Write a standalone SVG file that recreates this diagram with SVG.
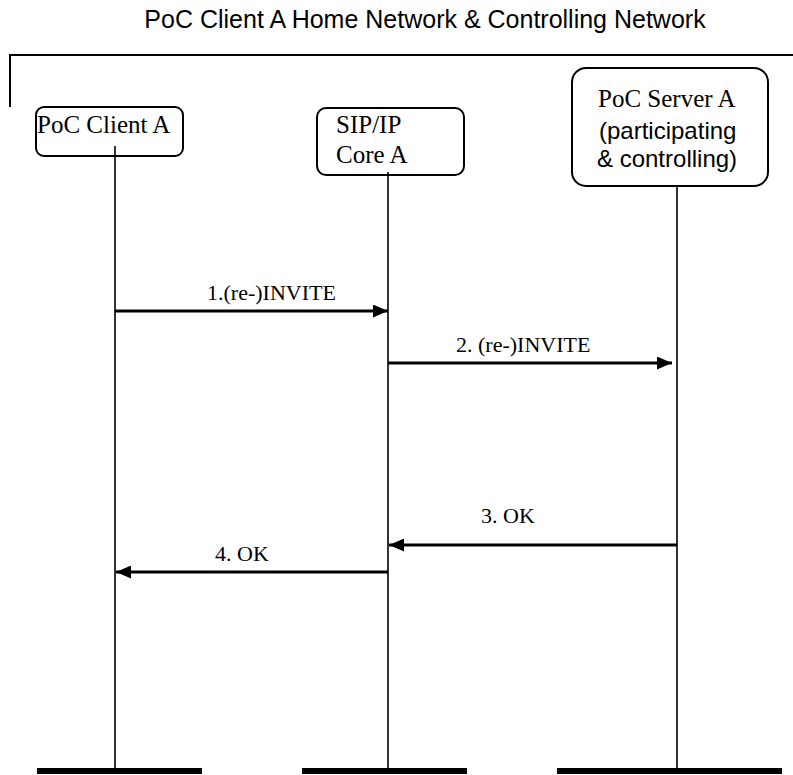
<svg xmlns="http://www.w3.org/2000/svg" width="793" height="775" viewBox="0 0 793 775">
<style>
.box{fill:#fff;stroke:#000;stroke-width:2}
.serif{font-family:"Liberation Serif","Times New Roman",serif;font-size:25px;fill:#000}
.sans{font-family:"Liberation Sans",Arial,sans-serif;fill:#000}
.life{stroke:#000;stroke-width:1.6;fill:none}
.msg{stroke:#000;stroke-width:3;fill:none;marker-end:url(#ah)}
.lbl{font-family:"Liberation Serif","Times New Roman",serif;font-size:22px;fill:#000}
.bar{fill:#000}
</style>
<defs>
<marker id="ah" viewBox="0 0 15 13" refX="15" refY="6.5" markerWidth="15" markerHeight="13" markerUnits="userSpaceOnUse" orient="auto">
<path d="M0,0 L15,6.5 L0,13 z" fill="#000"/>
</marker>
</defs>
<rect width="793" height="775" fill="#fff"/>
<text class="sans" x="425" y="28" font-size="25" text-anchor="middle">PoC Client A Home Network &amp; Controlling Network</text>
<polyline points="10,107 10,55 793,55" fill="none" stroke="#000" stroke-width="2"/>
<g id="lifelines">
<line class="life" x1="115" y1="146" x2="115" y2="770"/>
<line class="life" x1="388" y1="172" x2="388" y2="770"/>
<line class="life" x1="677" y1="187" x2="677" y2="770"/>
</g>
<g id="clientA">
<rect class="box" x="36" y="107" width="147" height="49" rx="8"/>
<text class="serif" x="37" y="133">PoC Client A</text>
<line class="life" x1="115" y1="146" x2="115" y2="156"/>
<rect class="bar" x="37" y="768" width="165" height="6"/>
</g>
<g id="sipCoreA">
<rect class="box" x="317" y="108" width="147" height="67" rx="9"/>
<text class="serif" x="336" y="133">SIP/IP</text>
<text class="serif" x="336" y="163">Core A</text>
<line class="life" x1="388" y1="172" x2="388" y2="175"/>
<rect class="bar" x="302" y="768" width="165" height="6"/>
</g>
<g id="serverA">
<rect class="box" x="572" y="68" width="196" height="118" rx="14"/>
<text class="serif" x="598" y="107">PoC Server A</text>
<text class="sans" x="599" y="139" font-size="24">(participating</text>
<text class="sans" x="597" y="167" font-size="24">&amp; controlling)</text>
<rect class="bar" x="557" y="768" width="225" height="6"/>
</g>
<g id="connectors">
<line class="msg" x1="115" y1="311" x2="388" y2="311"/>
<text class="lbl" x="207" y="300">1.(re-)INVITE</text>
<line class="msg" x1="388" y1="363" x2="672" y2="363"/>
<text class="lbl" x="456" y="352">2. (re-)INVITE</text>
<line class="msg" x1="677" y1="545" x2="389" y2="545"/>
<text class="lbl" x="481" y="523">3. OK</text>
<line class="msg" x1="388" y1="572" x2="116" y2="572"/>
<text class="lbl" x="215" y="561">4. OK</text>
</g>
</svg>
